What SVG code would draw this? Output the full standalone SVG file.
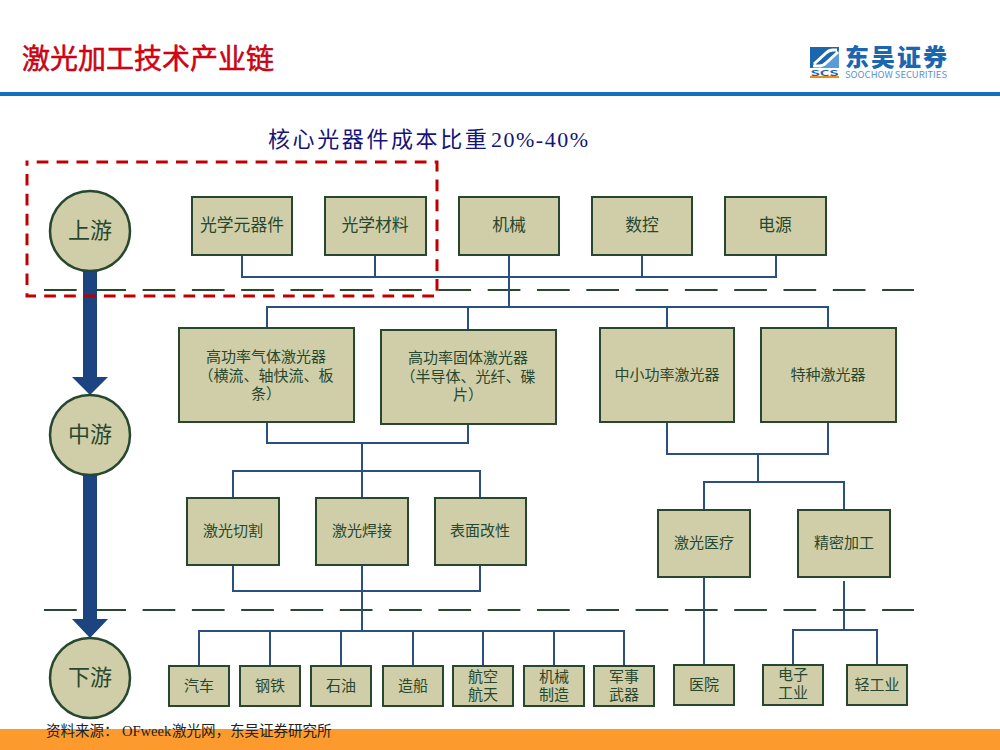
<svg xmlns="http://www.w3.org/2000/svg" width="1000" height="750" viewBox="0 0 1000 750">
<style>
text{font-family:"Noto Sans CJK SC","Noto Sans",sans-serif}
.b{fill:#cfcea8;stroke:#27482f;stroke-width:2}
.c{fill:#cfcea8;stroke:#27482f;stroke-width:2.5}
.t{font-size:15px;fill:#27482f;text-anchor:middle}
.u{font-size:16.800px;fill:#27482f;text-anchor:middle}
.ct{font-size:22px;fill:#27482f;text-anchor:middle}
.l{fill:none;stroke:#2a4f80;stroke-width:2}
.d{fill:none;stroke:#27482f;stroke-width:2;stroke-dasharray:32.700 16.600}
</style>
<rect width="1000" height="750" fill="#fff"/>
<rect x="0" y="729" width="1000" height="21" fill="#fd9a2e"/>
<rect x="0" y="92" width="1000" height="4" fill="#0f72bd"/>
<text x="22" y="69" font-size="28" fill="#e60012" stroke="#a00010" stroke-width="0.500">激光加工技术产业链</text>
<g id="logo">
<rect x="810" y="47" width="29" height="21" fill="#1c66ae"/>
<path d="M839 50V68H818Z" fill="#5b9bd8"/>
<path d="M814 64L826 53Q829 50 833 50H837M838 52L826 63Q823 66 819 66H813" fill="none" stroke="#fff" stroke-width="3"/>
<text x="824.500" y="75.500" font-size="8" font-weight="700" fill="#1c66ae" text-anchor="middle" textLength="28" lengthAdjust="spacingAndGlyphs">SCS</text>
<rect x="810" y="76" width="29" height="2" fill="#f08a1c"/>
<text x="845" y="66" font-size="24" font-weight="900" fill="#1c66ae" textLength="102" lengthAdjust="spacing">东吴证券</text>
<text x="845" y="77.500" font-size="9.500" fill="#5b93cf" textLength="102" lengthAdjust="spacingAndGlyphs">SOOCHOW SECURITIES</text>
</g>
<text x="268" y="147" font-size="22" fill="#14147a" letter-spacing="2.600">核心光器件成本比重<tspan x="491" font-family="Liberation Serif" letter-spacing="1.500">20%-40%</tspan></text>
<line class="d" x1="44" y1="290" x2="914" y2="290"/>
<line class="d" x1="44" y1="610" x2="914" y2="610"/>
<g id="connectors">
<path class="l" d="M242 255V277H776V255M375 255V277M509 255V306M642 255V277"/>
<path class="l" d="M267 328V307H828V328M468 330V307M667 328V307"/>
<path class="l" d="M267 422V443H468V424M362 443V630"/>
<path class="l" d="M233 498V471H480V498"/>
<path class="l" d="M233 565V591H480V565"/>
<path class="l" d="M667 422V454H828V422M758 454V482M704 510V482H844V510"/>
<path class="l" d="M199 666V631H624V666M270 631V666M341 631V666M413 631V666M483 631V666M554 631V666"/>
<path class="l" d="M704 577V665M844 581V630M793 665V630H877V665"/>
</g>
<path id="flow-arrow-1" d="M83 272H97V377H108L90 395L72 377H83Z" fill="#1c4480"/>
<path id="flow-arrow-2" d="M83 475H97V619H108L90 638L72 619H83Z" fill="#1c4480"/>
<g id="up"><circle class="c" cx="90" cy="231" r="40"/><text class="ct" x="90" y="238">上游</text></g>
<g id="mid"><circle class="c" cx="90" cy="435" r="40"/><text class="ct" x="90" y="442">中游</text></g>
<g id="down"><circle class="c" cx="90" cy="678" r="40"/><text class="ct" x="90" y="685">下游</text></g>
<g id="n1"><rect class="b" x="192" y="197" width="100" height="58"/><text class="u" x="242" y="231">光学元器件</text></g>
<g id="n2"><rect class="b" x="325" y="197" width="101" height="58"/><text class="u" x="375" y="231">光学材料</text></g>
<g id="n3"><rect class="b" x="459" y="197" width="100" height="58"/><text class="u" x="509" y="231">机械</text></g>
<g id="n4"><rect class="b" x="592" y="197" width="100" height="58"/><text class="u" x="642" y="231">数控</text></g>
<g id="n5"><rect class="b" x="725" y="197" width="101" height="58"/><text class="u" x="775" y="231">电源</text></g>
<g id="n6"><rect class="b" x="179" y="328" width="175" height="94"/><text class="t" y="362"><tspan x="266">高功率气体激光器</tspan><tspan x="266" dy="18.500">（横流、轴快流、板</tspan><tspan x="266" dy="18.500">条）</tspan></text></g>
<g id="n7"><rect class="b" x="381" y="330" width="175" height="94"/><text class="t" y="363"><tspan x="468">高功率固体激光器</tspan><tspan x="468" dy="18.500">（半导体、光纤、碟</tspan><tspan x="468" dy="18.500">片）</tspan></text></g>
<g id="n8"><rect class="b" x="600" y="328" width="134" height="94"/><text class="t" x="667" y="380">中小功率激光器</text></g>
<g id="n9"><rect class="b" x="761" y="328" width="135" height="94"/><text class="t" x="828" y="380">特种激光器</text></g>
<g id="n10"><rect class="b" x="187" y="498" width="92" height="67"/><text class="t" x="233" y="536">激光切割</text></g>
<g id="n11"><rect class="b" x="316" y="498" width="92" height="67"/><text class="t" x="362" y="536">激光焊接</text></g>
<g id="n12"><rect class="b" x="435" y="498" width="91" height="67"/><text class="t" x="480" y="536">表面改性</text></g>
<g id="n13"><rect class="b" x="658" y="510" width="92" height="67"/><text class="t" x="704" y="548">激光医疗</text></g>
<g id="n14"><rect class="b" x="798" y="510" width="92" height="67"/><text class="t" x="844" y="548">精密加工</text></g>
<g id="n15"><rect class="b" x="169" y="666" width="60" height="40"/><text class="t" x="199" y="691">汽车</text></g>
<g id="n16"><rect class="b" x="240" y="666" width="60" height="40"/><text class="t" x="270" y="691">钢铁</text></g>
<g id="n17"><rect class="b" x="311" y="666" width="60" height="40"/><text class="t" x="341" y="691">石油</text></g>
<g id="n18"><rect class="b" x="383" y="666" width="60" height="40"/><text class="t" x="413" y="691">造船</text></g>
<g id="n19"><rect class="b" x="453" y="666" width="60" height="40"/><text class="t" y="682"><tspan x="483">航空</tspan><tspan x="483" dy="18">航天</tspan></text></g>
<g id="n20"><rect class="b" x="524" y="666" width="60" height="40"/><text class="t" y="682"><tspan x="554">机械</tspan><tspan x="554" dy="18">制造</tspan></text></g>
<g id="n21"><rect class="b" x="594" y="666" width="60" height="40"/><text class="t" y="682"><tspan x="624">军事</tspan><tspan x="624" dy="18">武器</tspan></text></g>
<g id="n22"><rect class="b" x="674" y="665" width="60" height="40"/><text class="t" x="704" y="690">医院</text></g>
<g id="n23"><rect class="b" x="763" y="665" width="60" height="40"/><text class="t" y="680"><tspan x="793">电子</tspan><tspan x="793" dy="18">工业</tspan></text></g>
<g id="n24"><rect class="b" x="847" y="665" width="60" height="40"/><text class="t" x="877" y="690">轻工业</text></g>
<rect x="27" y="162" width="410" height="134" fill="none" stroke="#c00000" stroke-width="3" stroke-dasharray="11.700 8.200" stroke-dashoffset="10.200"/>
<text x="46" y="736" font-size="14.500" fill="#222">资料来源： <tspan x="122" font-family="Liberation Serif">OFweek</tspan><tspan x="172">激光网，东吴证券研究所</tspan></text>
</svg>
